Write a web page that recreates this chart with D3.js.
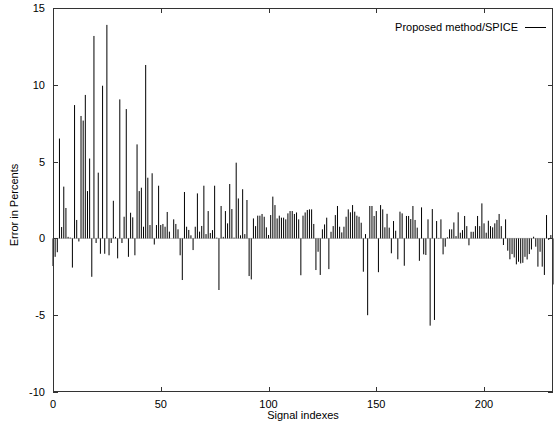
<!DOCTYPE html>
<html><head><meta charset="utf-8">
<script src="https://cdn.jsdelivr.net/npm/d3@7"></script>
<style>
html,body{margin:0;padding:0;background:#fff;}
svg{display:block;font-family:"Liberation Sans",Arial,sans-serif;}
</style></head>
<body><svg id="c" width="556" height="421"></svg>
<script>
const errorValues = [
-1.8,-1.2,-0.9,6.5,0.74,3.37,1.98,0.1,0.05,-1.9,
8.68,1.2,-0.2,7.97,7.67,9.34,3.08,5.2,-2.5,13.18,
-0.3,4.28,-1.0,9.94,-1.0,13.9,-1.1,-0.3,2.45,0.1,
-1.3,9.05,-0.3,1.41,8.42,-1.2,1.67,1.37,-1.1,6.12,
3.08,3.3,0.76,11.29,3.95,0.87,4.24,-0.4,0.87,3.43,
0.87,0.94,0.76,1.72,0.44,0.0,1.24,0.94,0.59,-1.1,
-2.71,3.02,0.76,0.55,0.2,-0.76,0.76,2.93,0.44,0.81,
3.43,0.28,1.78,0.35,0.54,3.43,0.05,-3.36,2.11,0.1,
1.78,0.98,3.54,1.91,0.05,4.93,2.6,0.2,3.2,0.28,
2.5,-2.45,-2.67,1.3,0.8,1.48,1.48,1.59,1.41,0.72,
0.22,1.52,2.72,2.17,1.3,1.48,1.35,1.35,1.24,1.63,
1.78,1.78,1.59,1.69,1.24,-2.4,1.48,1.69,1.85,1.89,
1.89,0.94,-2.06,-0.87,-2.38,0.59,0.91,1.35,-2.0,0.43,
0.8,1.52,2.11,0.76,0.39,0.76,1.41,1.89,1.7,2.17,
1.74,1.48,1.41,1.02,-2.17,0.28,-5.0,2.11,2.11,1.46,
1.78,-2.2,2.17,1.89,0.72,1.6,0.7,-0.97,1.13,0.5,
-1.36,1.74,1.63,-1.78,1.46,1.46,1.26,2.11,1.2,0.7,
-1.46,2.02,-1.04,-1.08,1.24,-5.68,1.91,-5.31,1.13,0.03,
1.24,-1.04,-0.54,0.07,0.59,0.59,1.04,0.15,1.7,0.37,
0.54,1.46,0.8,-0.45,0.43,0.43,0.8,1.46,0.8,2.28,
0.98,0.37,1.15,0.8,0.72,0.98,1.2,1.59,0.8,-0.43,
1.24,-0.8,-1.36,-1.02,-1.24,-1.69,-1.52,-1.63,-1.59,-1.2,
-1.37,-1.02,-0.72,0.11,-0.54,-1.84,-0.87,-1.84,-2.38,1.52,
-0.1,0.22,-3.0
];
const xTicks = [0, 50, 100, 150, 200];
const yTicks = [-10, -5, 0, 5, 10, 15];
const xDomain = [0, 232];
const yDomain = [-10, 15];
const seriesName = "Proposed method/SPICE";
const xTitle = "Signal indexes";
const yTitle = "Error in Percents";

const svg = d3.select("#c");
const L = 53, R = 553, T = 8, B = 392;
const x = d3.scaleLinear().domain(xDomain).range([L, R]);
const y = d3.scaleLinear().domain(yDomain).range([B, T]);
const axisCol = "#333";
const fs = 11;

// zero line
svg.append("line").attr("x1", L).attr("x2", R).attr("y1", y(0)).attr("y2", y(0))
  .attr("stroke", "#999").attr("stroke-width", 0.6);

// impulses
svg.append("g").selectAll("line").data(errorValues).join("line")
  .attr("x1", (d, i) => x(i)).attr("x2", (d, i) => x(i))
  .attr("y1", y(0)).attr("y2", d => y(d))
  .attr("stroke", "#000").attr("stroke-width", 1);

// border
svg.append("rect").attr("x", L + 0.5).attr("y", T + 0.5)
  .attr("width", R - L - 1).attr("height", B - T - 1)
  .attr("fill", "none").attr("stroke", axisCol).attr("stroke-width", 1);

// axes
const tl = 5;
const ax = svg.append("g");
xTicks.forEach(t => {
  const px = Math.round(x(t)) + 0.5;
  ax.append("line").attr("x1", px).attr("x2", px).attr("y1", B).attr("y2", B - tl).attr("stroke", axisCol);
  ax.append("line").attr("x1", px).attr("x2", px).attr("y1", T).attr("y2", T + tl).attr("stroke", axisCol);
  ax.append("text").attr("x", x(t)).attr("y", B + 15.5).attr("text-anchor", "middle")
    .attr("font-size", fs).attr("fill", "#000").text(t);
});
yTicks.forEach(t => {
  const py = Math.round(y(t)) + 0.5;
  ax.append("line").attr("x1", L).attr("x2", L + tl).attr("y1", py).attr("y2", py).attr("stroke", axisCol);
  ax.append("line").attr("x1", R).attr("x2", R - tl).attr("y1", py).attr("y2", py).attr("stroke", axisCol);
  ax.append("text").attr("x", L - 8).attr("y", y(t) + 4).attr("text-anchor", "end")
    .attr("font-size", fs).attr("fill", "#000").text(t);
});

// titles
svg.append("text").attr("x", (L + R) / 2).attr("y", 419).attr("text-anchor", "middle")
  .attr("font-size", fs).text(xTitle);
svg.append("text").attr("transform", "translate(18,205) rotate(-90)").attr("text-anchor", "middle")
  .attr("font-size", fs).text(yTitle);

// legend
svg.append("text").attr("x", 518).attr("y", 31).attr("text-anchor", "end")
  .attr("font-size", fs).text(seriesName);
svg.append("line").attr("x1", 525).attr("x2", 546).attr("y1", 27.5).attr("y2", 27.5)
  .attr("stroke", "#000").attr("stroke-width", 1);
</script>
</body></html>
